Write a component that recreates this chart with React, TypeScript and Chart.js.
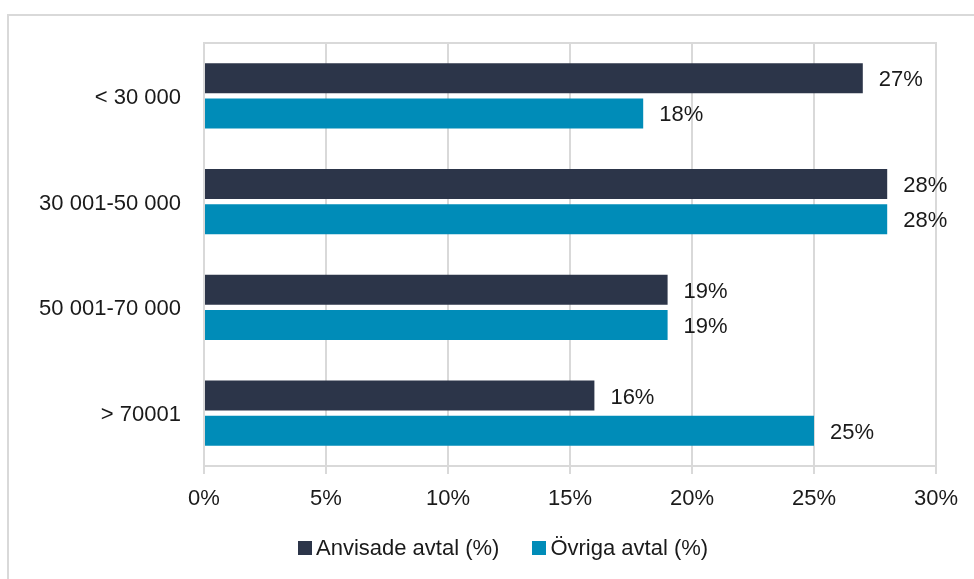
import React, { useEffect, useRef } from "react";
import { Chart, registerables } from "chart.js";

Chart.register(...registerables);

const categories = ["< 30 000", "30 001-50 000", "50 001-70 000", "> 70001"];
const anvisade = [27, 28, 19, 16];
const ovriga = [18, 28, 19, 25];
const seriesNames = ["Anvisade avtal (%)", "Övriga avtal (%)"];
const colors = ["#2C3549", "#008CB8"];
const xTicks = [0, 5, 10, 15, 20, 25, 30];

const FONT = "'Liberation Sans', Arial, sans-serif";
const GRID = "#d9d9d9";

const labelPlugin = {
  id: "barLabels",
  afterDatasetsDraw(chart: any) {
    const ctx = chart.ctx;
    ctx.save();
    ctx.font = `22px ${FONT}`;
    ctx.fillStyle = "#1a1a1a";
    ctx.textAlign = "left";
    ctx.textBaseline = "middle";
    chart.data.datasets.forEach((ds: any, di: number) => {
      const meta = chart.getDatasetMeta(di);
      meta.data.forEach((el: any, i: number) => {
        ctx.fillText(ds.data[i] + "%", el.x + 16, el.y + 2);
      });
    });
    ctx.restore();
  },
};

const topLinePlugin = {
  id: "topLine",
  beforeDatasetsDraw(chart: any) {
    const { ctx, chartArea } = chart;
    ctx.save();
    ctx.strokeStyle = GRID;
    ctx.lineWidth = 2;
    ctx.beginPath();
    ctx.moveTo(chartArea.left - 1, chartArea.top);
    ctx.lineTo(chartArea.right + 1, chartArea.top);
    ctx.stroke();
    ctx.restore();
  },
};

export default function App() {
  const ref = useRef<HTMLCanvasElement>(null);
  useEffect(() => {
    if (!ref.current) return;
    const chart = new Chart(ref.current, {
      type: "bar",
      data: {
        labels: categories,
        datasets: [
          {
            label: seriesNames[0],
            data: anvisade,
            backgroundColor: colors[0],
            categoryPercentage: 0.662,
            barPercentage: 0.857,
          },
          {
            label: seriesNames[1],
            data: ovriga,
            backgroundColor: colors[1],
            categoryPercentage: 0.662,
            barPercentage: 0.857,
          },
        ],
      },
      options: {
        indexAxis: "y",
        animation: false,
        responsive: false,
        maintainAspectRatio: false,
        layout: { padding: { left: 0, top: 43, right: 38, bottom: 63 } },
        plugins: {
          legend: { display: false },
          tooltip: { enabled: false },
        },
        scales: {
          x: {
            min: 0,
            max: 30,
            afterBuildTicks: (scale: any) => {
              scale.ticks = xTicks.map((v) => ({ value: v }));
            },
            afterFit: (scale: any) => {
              scale.height = 50;
            },
            grid: {
              color: GRID,
              lineWidth: 2,
              drawTicks: true,
              tickLength: 8,
              tickColor: GRID,
            },
            border: { display: true, color: GRID, width: 2 },
            ticks: {
              padding: 12,
              color: "#1a1a1a",
              font: { family: FONT, size: 22 },
              callback: (v: any) => v + "%",
            },
          },
          y: {
            afterFit: (scale: any) => {
              scale.width = 204;
            },
            grid: { display: false },
            border: { display: true, color: GRID, width: 2 },
            ticks: {
              padding: 15,
              labelOffset: 2,
              color: "#1a1a1a",
              font: { family: FONT, size: 22 },
            },
          },
        },
      },
      plugins: [labelPlugin, topLinePlugin],
    });
    return () => chart.destroy();
  }, []);

  return (
    <div
      style={{
        position: "fixed",
        left: 0,
        top: 0,
        width: 974,
        height: 579,
        background: "#fff",
        overflow: "hidden",
      }}
    >
      <div
        style={{
          position: "absolute",
          left: 7,
          top: 14,
          width: 1000,
          height: 600,
          borderLeft: `2px solid ${GRID}`,
          borderTop: `2px solid ${GRID}`,
        }}
      />
      <canvas
        ref={ref}
        width={974}
        height={579}
        style={{ position: "absolute", left: 0, top: 0 }}
      />
      <div
        style={{
          position: "absolute",
          left: 298,
          top: 535,
          display: "flex",
          alignItems: "center",
          fontFamily: FONT,
          fontSize: 22,
          color: "#1a1a1a",
          whiteSpace: "nowrap",
        }}
      >
        {seriesNames.map((name, i) => (
          <div
            key={name}
            style={{ display: "flex", alignItems: "center", marginRight: i === 0 ? 33 : 0 }}
          >
            <span
              style={{
                display: "inline-block",
                width: 14,
                height: 14,
                background: colors[i],
                marginRight: 4,
              }}
            />
            <span>{name}</span>
          </div>
        ))}
      </div>
    </div>
  );
}
